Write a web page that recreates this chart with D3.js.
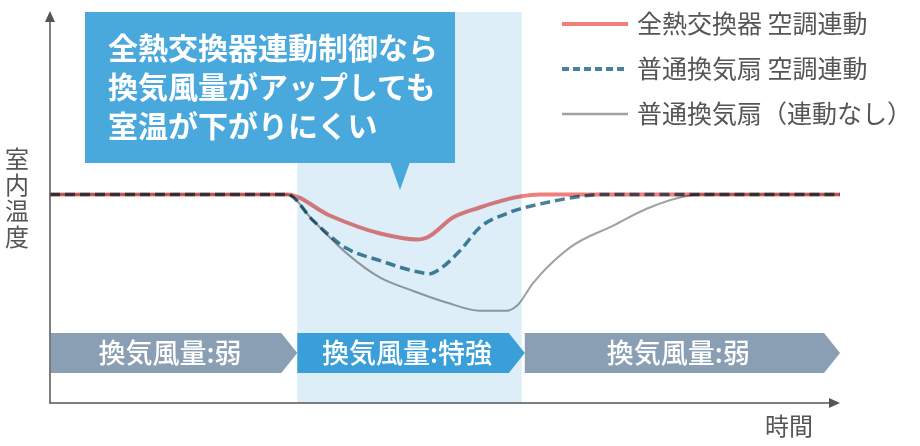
<!DOCTYPE html>
<html>
<head>
<meta charset="utf-8">
<script src="https://cdn.jsdelivr.net/npm/d3@7"></script>
<style>
  body { margin: 0; background: #fff; }
  svg { display: block; font-family: "Noto Sans CJK JP", "Noto Sans", sans-serif; }
  .curve { fill: none; mix-blend-mode: multiply; stroke-linejoin: round; stroke-linecap: butt; }
</style>
</head>
<body>
<div id="chart"></div>
<script>
//-------- data --------
// time in arbitrary units (0..100), temperature in arbitrary degrees (base 20)
var heatExTime = [0, 30, 35.4, 41.8, 46.5, 47.7, 51.0, 54.4, 59.5, 62.0, 100];
var heatExTemp = [20, 20, 18.95, 18.05, 17.75, 17.85, 18.85, 19.35, 19.9, 20, 20];

var fanLinkTime = [0, 30, 33.3, 37.6, 41.8, 45.9, 48.1, 49.4, 51.9, 54.4, 57.8, 62.9, 67.1, 69.6, 100];
var fanLinkTemp = [20, 20, 18.7, 17.3, 16.7, 16.2, 16.05, 16.3, 17.2, 18.35, 19.05, 19.6, 19.9, 20, 20];

var fanOnlyTime = [0, 30, 33.3, 37.6, 41.8, 45.9, 50.3, 54.4, 57.8, 59.1, 61.1, 65.8, 71.3, 75.6, 81.0, 82.3, 100];
var fanOnlyTemp = [20, 20, 18.7, 17.05, 15.85, 15.2, 14.6, 14.2, 14.2, 14.45, 15.55, 17.35, 18.45, 19.3, 19.95, 20, 20];

var seriesNames = ['全熱交換器 空調連動', '普通換気扇 空調連動', '普通換気扇（連動なし）'];

var phaseLabels = ['換気風量:弱', '換気風量:特強', '換気風量:弱'];
var phaseBounds = [0.1, 31.3, 60.1, 100];   // start/end of each phase (time units)
var boostBand = [31.3, 59.7];               // shaded "特強" period

var calloutLines = ['全熱交換器連動制御なら', '換気風量がアップしても', '室温が下がりにくい'];

//-------- canvas --------
var W = 920, H = 446;
var svg = d3.select('#chart').append('svg').attr('width', W).attr('height', H);

var x = d3.scaleLinear().domain([0, 100]).range([50, 840]);
var y = d3.scaleLinear().domain([9.6, 29.1]).range([403, 12]);

var axisColor = '#555';
var textColor = '#555';

// shaded band for the boost period
svg.append('rect')
  .attr('x', x(boostBand[0])).attr('y', 12)
  .attr('width', x(boostBand[1]) - x(boostBand[0])).attr('height', 403 - 12)
  .attr('fill', '#ddeef9');

// callout box
svg.append('rect').attr('x', 85).attr('y', 12).attr('width', 370).attr('height', 151).attr('fill', '#4aa9dc');
svg.append('path').attr('d', 'M390,162 L410,162 L400,190 Z').attr('fill', '#4aa9dc');
svg.selectAll('.callout').data(calloutLines).enter().append('text')
  .attr('class', 'callout')
  .attr('x', 108).attr('y', function(d, i) { return 48 + i * 39; })
  .attr('dy', '0.36em')
  .attr('fill', '#fff').attr('font-size', 30).attr('font-weight', 'bold')
  .text(function(d) { return d; });

// phase arrows
var tip = 16;
var phases = phaseLabels.map(function(d, i) {
  return { label: d, x0: x(phaseBounds[i]), x1: x(phaseBounds[i + 1]), boost: i === 1 };
});
var pg = svg.selectAll('.phase').data(phases).enter().append('g').attr('class', 'phase');
pg.append('path')
  .attr('d', function(d) {
    var t = 333, b = 373, m = (t + b) / 2;
    return 'M' + d.x0 + ',' + t + ' L' + (d.x1 - tip) + ',' + t + ' L' + d.x1 + ',' + m +
           ' L' + (d.x1 - tip) + ',' + b + ' L' + d.x0 + ',' + b + ' Z';
  })
  .attr('fill', function(d) { return d.boost ? '#3a9fd9' : '#8a9fb4'; });
pg.append('text')
  .attr('x', function(d) { return (d.x0 + d.x1 - tip) / 2 + 4; })
  .attr('y', 353).attr('dy', '0.36em')
  .attr('text-anchor', 'middle')
  .attr('fill', '#fff').attr('font-size', 27).attr('font-weight', 500)
  .text(function(d) { return d.label; });

// curves
var line = d3.line()
  .x(function(d) { return x(d[0]); })
  .y(function(d) { return y(d[1]); })
  .curve(d3.curveMonotoneX);

var series = [
  { time: heatExTime, temp: heatExTemp, color: '#f0807e', width: 4, dash: null },
  { time: fanLinkTime, temp: fanLinkTemp, color: '#46839a', width: 3.5, dash: '10,5' },
  { time: fanOnlyTime, temp: fanOnlyTemp, color: '#a0a0a0', width: 2, dash: null }
];

svg.selectAll('.curve').data(series).enter().append('path')
  .attr('class', 'curve')
  .attr('d', function(s) { return line(d3.zip(s.time, s.temp)); })
  .attr('stroke', function(s) { return s.color; })
  .attr('stroke-width', function(s) { return s.width; })
  .attr('stroke-dasharray', function(s) { return s.dash; });

// axes with arrow heads
svg.append('line').attr('x1', 50).attr('y1', 403).attr('x2', 50).attr('y2', 20)
  .attr('stroke', axisColor).attr('stroke-width', 1.5);
svg.append('path').attr('d', 'M45,22 L55,22 L50,11 Z').attr('fill', axisColor);
svg.append('line').attr('x1', 49.25).attr('y1', 403).attr('x2', 831).attr('y2', 403)
  .attr('stroke', axisColor).attr('stroke-width', 1.5);
svg.append('path').attr('d', 'M829,398 L829,408 L840,403 Z').attr('fill', axisColor);

// axis titles
svg.append('text').attr('x', 789).attr('y', 426).attr('dy', '0.36em')
  .attr('text-anchor', 'middle').attr('fill', textColor).attr('font-size', 24)
  .text('時間');
svg.append('text')
  .attr('x', 17).attr('y', 147)
  .style('writing-mode', 'vertical-rl')
  .style('letter-spacing', '2px')
  .attr('fill', textColor).attr('font-size', 24)
  .text('室内温度');

// legend
var lg = svg.selectAll('.legend').data(series).enter().append('g')
  .attr('class', 'legend')
  .attr('transform', function(d, i) { return 'translate(0,' + (24 + i * 45) + ')'; });
lg.append('line').attr('x1', 562).attr('x2', 628).attr('y1', 0).attr('y2', 0)
  .attr('stroke', function(s) { return s.color; })
  .attr('stroke-width', function(s) { return s.width === 2 ? 2.5 : 4; })
  .attr('stroke-dasharray', function(s) { return s.dash ? '7,4' : null; });
lg.append('text').attr('x', 637).attr('y', 0).attr('dy', '0.36em')
  .attr('fill', textColor).attr('font-size', 25)
  .text(function(d, i) { return seriesNames[i]; });
</script>
</body>
</html>
